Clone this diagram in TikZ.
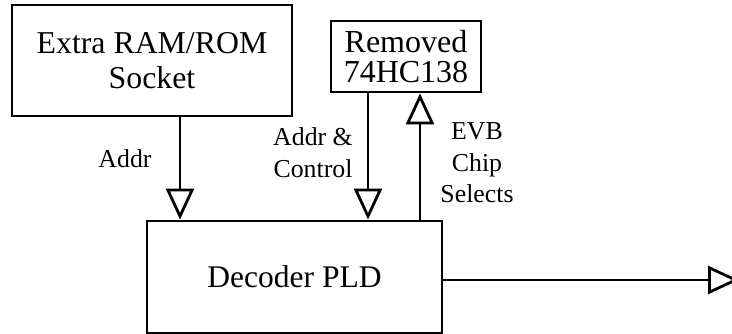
\documentclass[tikz,border=0pt]{standalone}
\usepackage{fontspec}
\setmainfont{Liberation Serif}
\usetikzlibrary{arrows.meta}
\begin{document}
\begin{tikzpicture}[x=1pt,y=-1pt,
  box/.style={draw, line width=2.8pt, rectangle, inner sep=0pt, align=center},
  lbl/.style={align=center, inner sep=0pt, font=\fontsize{25.8}{31.5}\selectfont},
  bus/.style={line width=2.8pt, -{Triangle[open, length=31pt, width=28pt]}}]
\useasboundingbox (0,0) rectangle (732,334);
\node[box, minimum width=280pt, minimum height=111pt, font=\fontsize{31.8}{35}\selectfont]
  (extra) at (152,60.5) {Extra RAM/ROM\\Socket};
\node[box, minimum width=150pt, minimum height=71pt, font=\fontsize{32}{30}\selectfont]
  (removed) at (406,56.5) {Removed\\74HC138};
\node[box, minimum width=295pt, minimum height=112pt, font=\fontsize{31.5}{36}\selectfont]
  (decoder) at (294.5,277) {Decoder PLD};
\coordinate (out) at (739,280);
\draw[bus] ([xshift=28pt]extra.south) -- ([xshift=28pt]extra.south |- decoder.north);
\draw[bus] ([xshift=-38pt]removed.south) -- ([xshift=-38pt]removed.south |- decoder.north);
\draw[bus] ([xshift=14pt]removed.south |- decoder.north) -- ([xshift=14pt]removed.south);
\draw[bus] (decoder.east |- out) -- (out);
\node[lbl, anchor=base] (laddr) at (125,168) {Addr};
\node[lbl] (lctrl) at (313,152.5) {Addr \&\\Control};
\node[lbl] (lcs) at (477,163) {EVB\\Chip\\Selects};
\end{tikzpicture}
\end{document}
